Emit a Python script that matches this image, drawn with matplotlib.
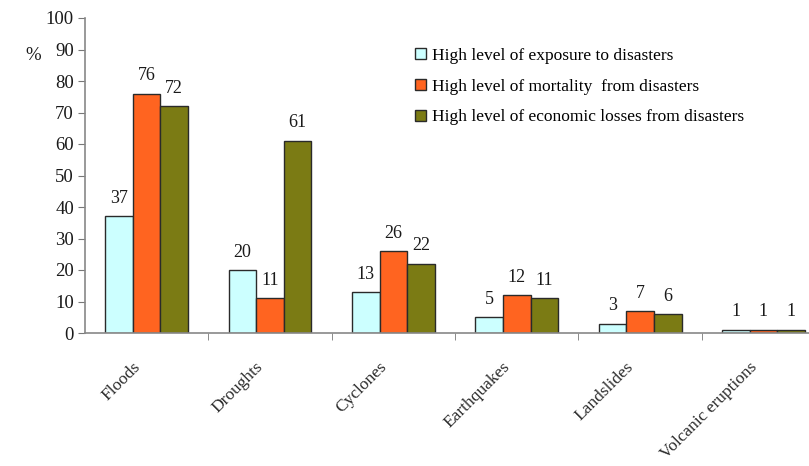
import numpy as np
import matplotlib.pyplot as plt
from matplotlib.ticker import FixedLocator
from matplotlib.transforms import ScaledTranslation

categories = ['Floods', 'Droughts', 'Cyclones', 'Earthquakes', 'Landslides',
              'Volcanic eruptions']
exposure = [37, 20, 13, 5, 3, 1]
mortality = [76, 11, 26, 12, 7, 1]
losses = [72, 61, 22, 11, 6, 1]
series_names = ['High level of exposure to disasters',
                'High level of mortality  from disasters',
                'High level of economic losses from disasters']

plt.rcParams['font.family'] = ['Liberation Serif', 'DejaVu Serif']

fig = plt.figure(figsize=(8.09, 4.66), dpi=100)
ax = fig.add_axes([85 / 809, 1 - 333 / 466, 732 / 809, 315 / 466])

x = np.arange(len(categories))
w = 0.224
colors = ['#ccffff', '#ff6420', '#7b7b14']
for i, (vals, col, name) in enumerate(zip([exposure, mortality, losses], colors, series_names)):
    bars = ax.bar(x + (i - 1) * w, vals, w, color=col, edgecolor='#2a2a2a',
                  linewidth=1.0, label=name)
    for b, v in zip(bars, vals):
        ax.text(b.get_x() + b.get_width() / 2, v + 3, str(v), ha='center',
                va='bottom', fontsize=13, color='#1a1a1a')

ax.set_ylim(0, 100)
ax.set_xlim(-0.5, -0.5 + 724 / 122)
ax.set_yticks(range(0, 101, 10))
ax.tick_params(axis='y', direction='out', length=5, colors='#777777',
               labelcolor='#1a1a1a', labelsize=13.5, pad=3)
ax.set_xticks(x)
ax.set_xticklabels(categories, rotation=45, ha='right', va='center',
                   rotation_mode='anchor', fontsize=12.5, color='#2a2a2a')
ax.tick_params(axis='x', length=0, pad=12)
# nudge the slanted labels down and to the left
shift = ScaledTranslation(-0.09, -0.15, fig.dpi_scale_trans)
for lab in ax.get_xticklabels():
    lab.set_transform(lab.get_transform() + shift)
ax.xaxis.set_minor_locator(FixedLocator(np.arange(0.5, 6, 1)))
ax.tick_params(axis='x', which='minor', direction='out', length=5, colors='#777777')

for s in ['top', 'right']:
    ax.spines[s].set_visible(False)
for s in ['left', 'bottom']:
    ax.spines[s].set_color('#888888')
    ax.spines[s].set_linewidth(1.2)

fig.text(33 / 809, 1 - 55 / 466, '%', fontsize=13.5, ha='center', va='center',
         color='#1a1a1a')

ax.legend(loc='upper left', bbox_to_anchor=(0.43, 0.955), frameon=False,
          fontsize=12.5, handlelength=0.6, handleheight=0.6, handletextpad=0.35,
          labelspacing=0.85)

fig.savefig('out.png', dpi=100)
